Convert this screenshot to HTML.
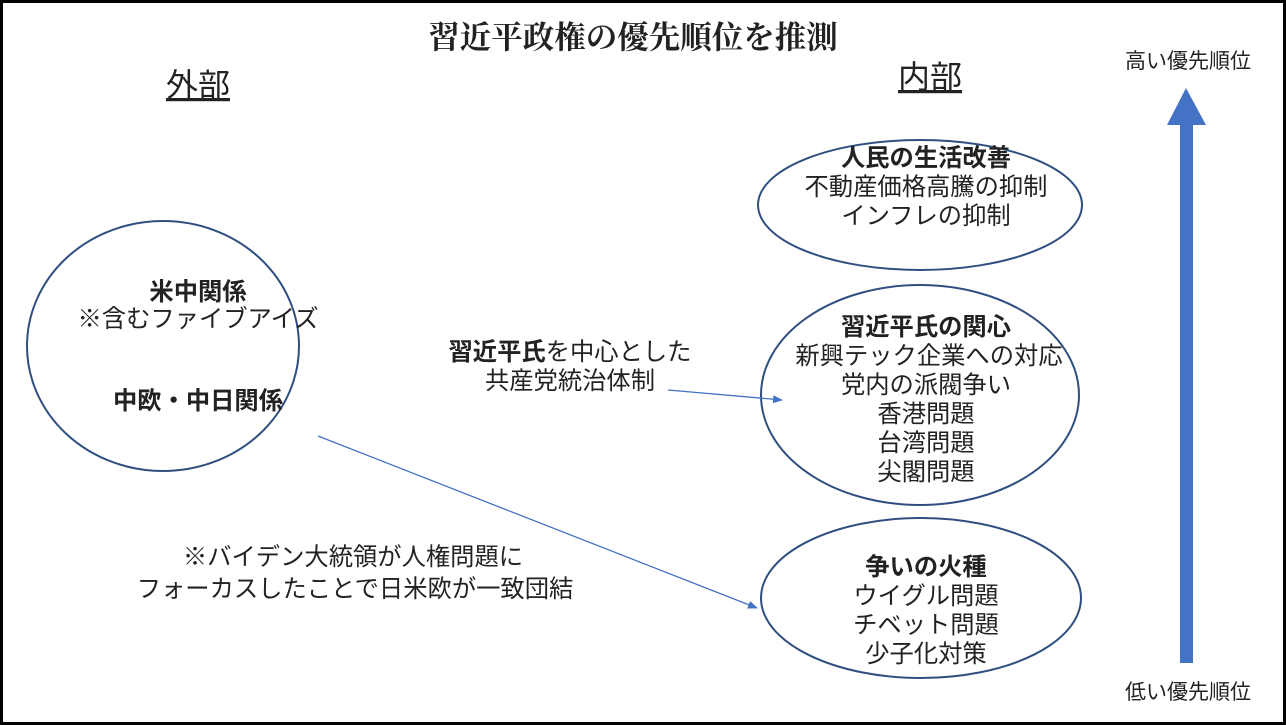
<!DOCTYPE html>
<html><head><meta charset="utf-8"><style>
html,body{margin:0;padding:0;background:#fff}
svg{display:block}
text{font-family:"Liberation Sans","Noto Sans CJK JP",sans-serif;fill:#222;font-size:24.3px}
.b{font-weight:bold}
</style></head><body>
<svg width="1286" height="725" viewBox="0 0 1286 725">
<defs><marker id="ah" markerWidth="10" markerHeight="8" refX="9" refY="4" orient="auto" markerUnits="userSpaceOnUse"><path d="M0,0 L10,4 L0,8 z" fill="#4472c4"/></marker></defs>
<rect x="1.5" y="1.5" width="1283" height="722" fill="#fff" stroke="#000" stroke-width="3"/>
<text x="633" y="48" text-anchor="middle" style="font-family:'Liberation Serif','Noto Serif CJK SC',serif;font-size:31.5px;font-weight:bold">習近平政権の優先順位を推測</text>
<text x="198" y="96" text-anchor="middle" style="font-size:32px" text-decoration="underline">外部</text>
<text x="930" y="88" text-anchor="middle" style="font-size:32px" text-decoration="underline">内部</text>
<text x="1188" y="68" text-anchor="middle" style="font-size:21px">高い優先順位</text>
<text x="1188" y="699" text-anchor="middle" style="font-size:21px">低い優先順位</text>
<rect x="1180" y="122" width="13" height="541" fill="#4472c4"/>
<polygon points="1186,88 1206,125 1167,125" fill="#4472c4"/>
<g fill="#fff" stroke="#2f4f80" stroke-width="2">
<ellipse cx="163" cy="346" rx="136" ry="125"/>
<ellipse cx="920" cy="205" rx="162" ry="65"/>
<ellipse cx="920" cy="395" rx="159" ry="110"/>
<ellipse cx="921" cy="598" rx="160" ry="80"/>
</g>
<text x="198" y="300" text-anchor="middle" class="b">米中関係</text>
<text x="198" y="327" text-anchor="middle">※含むファイブアイズ</text>
<text x="198" y="409" text-anchor="middle" class="b">中欧・中日関係</text>
<text x="926" y="166" text-anchor="middle" class="b">人民の生活改善</text>
<text x="926" y="195" text-anchor="middle">不動産価格高騰の抑制</text>
<text x="926" y="224" text-anchor="middle">インフレの抑制</text>
<text x="926" y="335" text-anchor="middle" class="b">習近平氏の関心</text>
<text x="929" y="364" text-anchor="middle">新興テック企業への対応</text>
<text x="926" y="393" text-anchor="middle">党内の派閥争い</text>
<text x="926" y="422" text-anchor="middle">香港問題</text>
<text x="926" y="451" text-anchor="middle">台湾問題</text>
<text x="926" y="480" text-anchor="middle">尖閣問題</text>
<text x="926" y="575" text-anchor="middle" class="b">争いの火種</text>
<text x="926" y="604" text-anchor="middle">ウイグル問題</text>
<text x="926" y="633" text-anchor="middle">チベット問題</text>
<text x="926" y="662" text-anchor="middle">少子化対策</text>
<text x="570" y="360" text-anchor="middle"><tspan class="b">習近平氏</tspan>を中心とした</text>
<text x="570" y="389" text-anchor="middle">共産党統治体制</text>
<text x="353" y="565" text-anchor="middle">※バイデン大統領が人権問題に</text>
<text x="355" y="597" text-anchor="middle">フォーカスしたことで日米欧が一致団結</text>
<line x1="668" y1="390" x2="782" y2="400" stroke="#4472c4" stroke-width="1.3" marker-end="url(#ah)"/>
<line x1="318" y1="436" x2="757" y2="608" stroke="#4472c4" stroke-width="1.3" marker-end="url(#ah)"/>
</svg>
</body></html>
